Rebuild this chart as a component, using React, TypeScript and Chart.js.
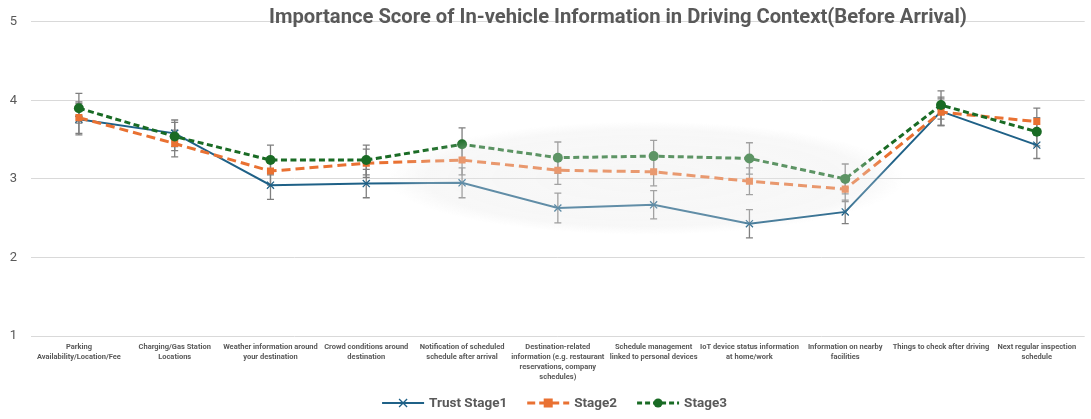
import React, { useEffect, useRef } from "react";
import { Chart, registerables } from "chart.js";

Chart.register(...registerables);

const categories: string[][] = [
  ["Parking", "Availability/Location/Fee"],
  ["Charging/Gas Station", "Locations"],
  ["Weather information around", "your destination"],
  ["Crowd conditions around", "destination"],
  ["Notification of scheduled", "schedule after arrival"],
  ["Destination-related", "information (e.g. restaurant", "reservations, company", "schedules)"],
  ["Schedule management", "linked to personal devices"],
  ["IoT device status information", "at home/work"],
  ["Information on nearby", "facilities"],
  ["Things to check after driving"],
  ["Next regular inspection", "schedule"],
];

const stage1 = [3.76, 3.58, 2.92, 2.94, 2.95, 2.63, 2.67, 2.43, 2.58, 3.86, 3.43];
const stage2 = [3.78, 3.45, 3.1, 3.2, 3.24, 3.11, 3.09, 2.97, 2.87, 3.85, 3.73];
const stage3 = [3.9, 3.54, 3.24, 3.24, 3.44, 3.27, 3.29, 3.26, 3.0, 3.94, 3.6];

const err1 = [0.2, 0.17, 0.18, 0.18, 0.19, 0.19, 0.18, 0.18, 0.15, 0.18, 0.17];
const err2 = [0.2, 0.17, 0.18, 0.18, 0.19, 0.18, 0.18, 0.17, 0.16, 0.17, 0.17];
const err3 = [0.19, 0.18, 0.19, 0.19, 0.21, 0.2, 0.2, 0.2, 0.19, 0.18, 0.18];

const yTicks = [1, 2, 3, 4, 5];

const seriesNames = ["Trust Stage1", "Stage2", "Stage3"];
const TITLE = "Importance Score of In-vehicle Information in Driving Context(Before Arrival)";

const BLUE = "#1F6187";
const ORANGE = "#E97132";
const GREEN = "#196B24";
const TEXT = "#595959";
const FONT = "Roboto, 'Liberation Sans', sans-serif";

const errors = [err1, err2, err3];

const errorBarPlugin = {
  id: "errorBars",
  beforeDatasetsDraw(chart: any) {
    const ctx = chart.ctx;
    const xs = chart.scales.x;
    const ys = chart.scales.y;
    ctx.save();
    ctx.strokeStyle = "#7f7f7f";
    ctx.lineWidth = 1.3;
    chart.data.datasets.forEach((ds: any, di: number) => {
      const errs = errors[di];
      ds.data.forEach((v: number, i: number) => {
        const x = xs.getPixelForValue(i);
        const yt = ys.getPixelForValue(v + errs[i]);
        const yb = ys.getPixelForValue(v - errs[i]);
        ctx.beginPath();
        ctx.moveTo(x, yt);
        ctx.lineTo(x, yb);
        ctx.moveTo(x - 3.5, yt);
        ctx.lineTo(x + 3.5, yt);
        ctx.moveTo(x - 3.5, yb);
        ctx.lineTo(x + 3.5, yb);
        ctx.stroke();
      });
    });
    ctx.restore();
  },
};

const overlayPlugin = {
  id: "overlay",
  afterDatasetsDraw(chart: any) {
    const ctx = chart.ctx;
    const xs = chart.scales.x;
    const ys = chart.scales.y;
    const cx = xs.getPixelForValue(5.92);
    const cy = ys.getPixelForValue(3.01);
    const rx = xs.getPixelForValue(5.92 + 2.7) - cx;
    const ry = cy - ys.getPixelForValue(3.01 + 0.72);
    ctx.save();
    ctx.translate(cx, cy);
    ctx.scale(rx, ry);
    const g = ctx.createRadialGradient(0, 0, 0, 0, 0, 1);
    g.addColorStop(0, "rgba(232,232,232,0.34)");
    g.addColorStop(0.85, "rgba(232,232,232,0.32)");
    g.addColorStop(1, "rgba(232,232,232,0)");
    ctx.fillStyle = g;
    ctx.beginPath();
    ctx.arc(0, 0, 1, 0, Math.PI * 2);
    ctx.fill();
    ctx.restore();
  },
  afterDraw(chart: any) {
    const ctx = chart.ctx;
    const area = chart.chartArea;
    ctx.save();
    // title
    ctx.fillStyle = TEXT;
    ctx.font = `bold 20.2px ${FONT}`;
    ctx.textAlign = "center";
    ctx.textBaseline = "middle";
    ctx.fillText(TITLE, area.left + (area.right - area.left) * 0.557, 18);

    // legend
    const colors = [BLUE, ORANGE, GREEN];
    const dashes = [[], [8, 4], [5, 3]];
    const styles = ["crossRot", "rect", "circle"];
    ctx.font = `bold 13.5px ${FONT}`;
    ctx.textAlign = "left";
    const lineLen = 42;
    const gapText = 5;
    const gapItem = 20;
    const widths = seriesNames.map((n) => lineLen + gapText + ctx.measureText(n).width);
    const total = widths.reduce((a, b) => a + b, 0) + gapItem * (seriesNames.length - 1);
    let x = chart.width / 2 + 9 - total / 2;
    const y = 403;
    seriesNames.forEach((name, i) => {
      ctx.strokeStyle = colors[i];
      ctx.lineWidth = i === 0 ? 2 : 3;
      ctx.setLineDash(dashes[i]);
      ctx.beginPath();
      ctx.moveTo(x, y);
      ctx.lineTo(x + lineLen, y);
      ctx.stroke();
      ctx.setLineDash([]);
      ctx.fillStyle = colors[i];
      ctx.strokeStyle = colors[i];
      const mx = x + lineLen / 2;
      if (styles[i] === "crossRot") {
        ctx.lineWidth = 1.3;
        ctx.beginPath();
        ctx.moveTo(mx - 4, y - 4);
        ctx.lineTo(mx + 4, y + 4);
        ctx.moveTo(mx - 4, y + 4);
        ctx.lineTo(mx + 4, y - 4);
        ctx.stroke();
      } else if (styles[i] === "rect") {
        ctx.fillRect(mx - 4.5, y - 4.5, 9, 9);
      } else {
        ctx.beginPath();
        ctx.arc(mx, y, 4.5, 0, Math.PI * 2);
        ctx.fill();
      }
      ctx.fillStyle = TEXT;
      ctx.fillText(name, x + lineLen + gapText, y + 0.5);
      x += widths[i] + gapItem;
    });
    ctx.restore();
  },
};

export default function App() {
  const ref = useRef<HTMLCanvasElement>(null);
  useEffect(() => {
    document.body.style.margin = "0";
    const canvas = ref.current!;
    const chart = new Chart(canvas, {
      type: "line",
      data: {
        labels: categories,
        datasets: [
          {
            label: seriesNames[0],
            data: stage1,
            borderColor: BLUE,
            backgroundColor: BLUE,
            borderWidth: 2,
            pointStyle: "crossRot",
            pointRadius: 5,
            pointBorderWidth: 1.3,
            pointBorderColor: BLUE,
            tension: 0,
            order: 3,
          },
          {
            label: seriesNames[1],
            data: stage2,
            borderColor: ORANGE,
            backgroundColor: ORANGE,
            borderWidth: 3,
            borderDash: [9, 5],
            pointStyle: "rect",
            pointRadius: 5,
            pointBorderWidth: 0,
            tension: 0,
            order: 2,
          },
          {
            label: seriesNames[2],
            data: stage3,
            borderColor: GREEN,
            backgroundColor: GREEN,
            borderWidth: 3,
            borderDash: [6, 3.5],
            pointStyle: "circle",
            pointRadius: 5,
            pointBorderWidth: 0,
            tension: 0,
            order: 1,
          },
        ],
      },
      options: {
        responsive: false,
        animation: false,
        layout: { padding: { top: 18, right: 5, left: 0, bottom: 0 } },
        plugins: {
          legend: { display: false },
          title: { display: false },
          tooltip: { enabled: false },
        },
        scales: {
          x: {
            offset: true,
            grid: { display: false, drawTicks: false },
            border: { display: false },
            ticks: {
              autoSkip: false,
              maxRotation: 0,
              minRotation: 0,
              padding: 6,
              color: TEXT,
              font: { family: FONT, size: 7.5, weight: "bold", lineHeight: 1.33 },
            },
            afterFit(scale: any) {
              scale.height = 83;
            },
          },
          y: {
            min: 1,
            max: 5,
            afterBuildTicks(scale: any) {
              scale.ticks = yTicks.map((v) => ({ value: v }));
            },
            grid: { color: "#d9d9d9", lineWidth: 1, drawTicks: false },
            border: { display: false },
            ticks: {
              padding: 14,
              color: TEXT,
              font: { family: FONT, size: 13 },
            },
            afterFit(scale: any) {
              scale.width = 31;
            },
          },
        },
      },
      plugins: [errorBarPlugin, overlayPlugin],
    });
    return () => chart.destroy();
  }, []);
  return (
    <div style={{ width: 1091, height: 419, overflow: "hidden", background: "#fff" }}>
      <canvas ref={ref} width={1091} height={419} style={{ display: "block" }} />
    </div>
  );
}
